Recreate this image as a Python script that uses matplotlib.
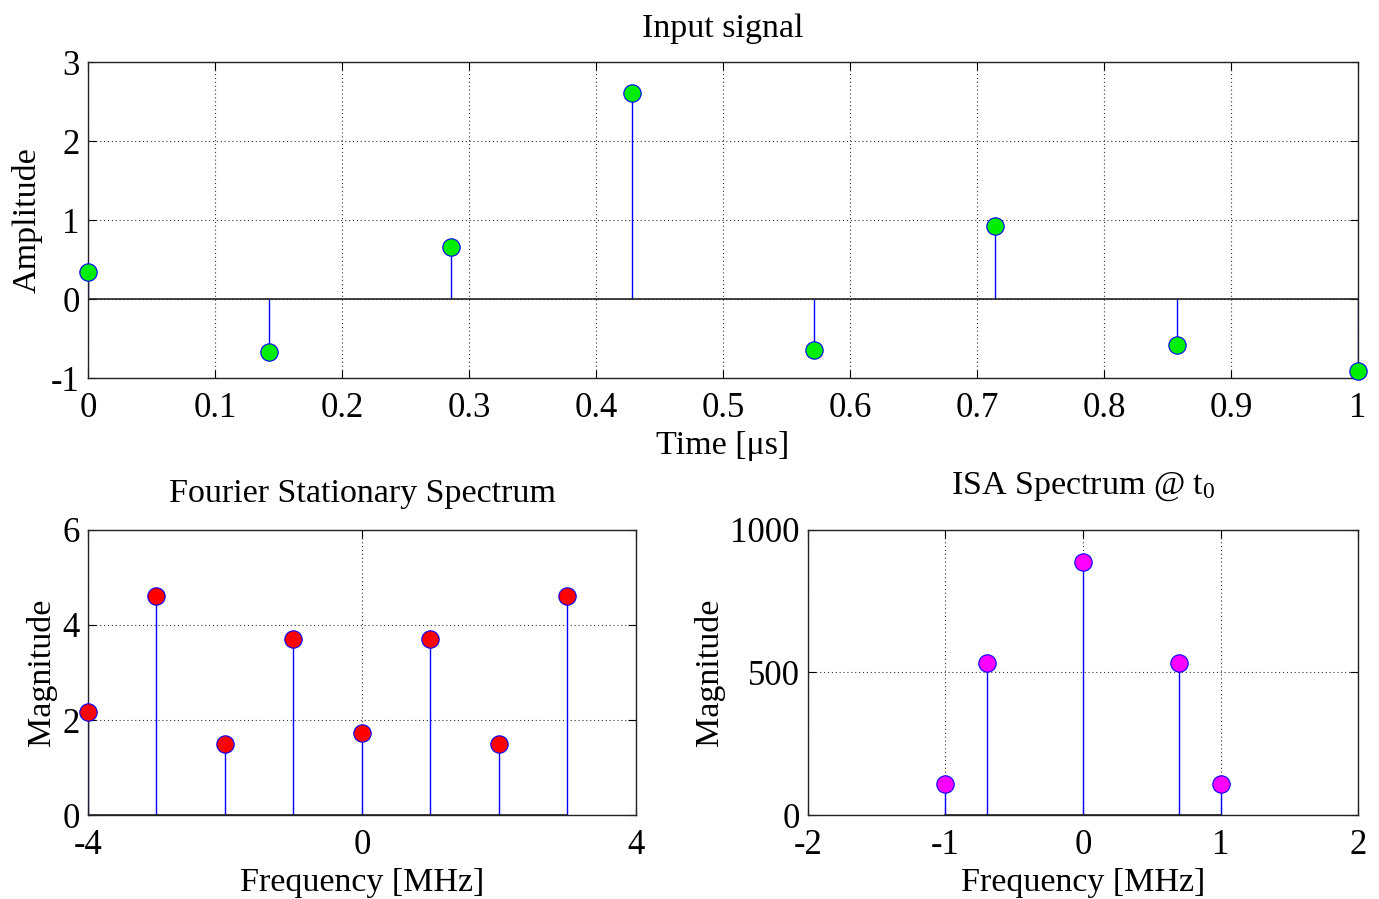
import matplotlib
matplotlib.use("Agg")
import matplotlib.pyplot as plt
import numpy as np

plt.rcParams['font.family'] = ['Liberation Serif', 'DejaVu Serif']
plt.rcParams['mathtext.fontset'] = 'custom'
plt.rcParams['mathtext.rm'] = 'Liberation Serif'
plt.rcParams['mathtext.it'] = 'Liberation Serif'
plt.rcParams['axes.unicode_minus'] = False

# Input signal
time_us = [0, 1/7, 2/7, 3/7, 4/7, 5/7, 6/7, 1.0]
amplitude = [0.34, -0.67, 0.66, 2.61, -0.645, 0.92, -0.58, -0.91]

# Fourier stationary spectrum
fourier_freq = [-4, -3, -2, -1, 0, 1, 2, 3]
fourier_mag = [2.17, 4.61, 1.49, 3.71, 1.73, 3.71, 1.49, 4.61]

# ISA spectrum
isa_freq = [-1, -0.7, 0, 0.7, 1]
isa_mag = [109, 533, 888, 533, 109]

top_xticks = [0, 0.1, 0.2, 0.3, 0.4, 0.5, 0.6, 0.7, 0.8, 0.9, 1]
top_xticklabels = ['0', '0.1', '0.2', '0.3', '0.4', '0.5', '0.6', '0.7', '0.8', '0.9', '1']
top_yticks = [-1, 0, 1, 2, 3]
bl_xticks = [-4, 0, 4]
bl_yticks = [0, 2, 4, 6]
br_xticks = [-2, -1, 0, 1, 2]
br_yticks = [0, 500, 1000]

TICK_FS = 25
LABEL_FS = 24.5
TITLE_FS = 24.5

fig = plt.figure(figsize=(13.79, 8.99), dpi=100)
ax1 = fig.add_axes([0.0638, 0.5795, 0.921, 0.3515])
ax2 = fig.add_axes([0.0638, 0.0934, 0.3974, 0.3171])
ax3 = fig.add_axes([0.5859, 0.0934, 0.3989, 0.3171])


def style(ax):
    ax.tick_params(direction='in', top=True, right=True, labelsize=TICK_FS,
                   length=6, width=0.8)
    ax.tick_params(axis='x', pad=10)
    ax.tick_params(axis='y', pad=6)
    ax.grid(True, linestyle=(0, (1, 2.5)), color='#333333', linewidth=0.8)
    ax.set_axisbelow(True)
    for s in ax.spines.values():
        s.set_linewidth(1.0)
        s.set_color('#222222')


def stem(ax, x, y, face):
    ml, sl, bl = ax.stem(x, y, linefmt='b-', markerfmt='o', basefmt='k-')
    plt.setp(sl, linewidth=1.0, color='blue')
    plt.setp(ml, markersize=12.5, markerfacecolor=face, markeredgecolor='blue',
             markeredgewidth=0.8, zorder=3)
    plt.setp(bl, linewidth=1.2, color='#222222')
    ml.set_clip_on(False)
    return ml


# Top
stem(ax1, time_us, amplitude, '#00ee00')
ax1.set_xlim(0, 1)
ax1.set_ylim(-1, 3)
ax1.set_xticks(top_xticks)
ax1.set_xticklabels(top_xticklabels)
ax1.set_yticks(top_yticks)
style(ax1)
ax1.set_title('Input signal', fontsize=TITLE_FS, pad=18)
ax1.set_xlabel('Time [\u03bcs]', fontsize=LABEL_FS, labelpad=4)
ax1.set_ylabel('Amplitude', fontsize=LABEL_FS, labelpad=6)

# Bottom left
stem(ax2, fourier_freq, fourier_mag, '#ff0000')
ax2.set_xlim(-4, 4)
ax2.set_ylim(0, 6)
ax2.set_xticks(bl_xticks)
ax2.set_yticks(bl_yticks)
style(ax2)
ax2.set_title('Fourier Stationary Spectrum', fontsize=TITLE_FS, pad=20)
ax2.set_xlabel('Frequency [MHz]', fontsize=LABEL_FS, labelpad=4)
ax2.set_ylabel('Magnitude', fontsize=LABEL_FS, labelpad=4)

# Bottom right
stem(ax3, isa_freq, isa_mag, '#ff00ff')
ax3.set_xlim(-2, 2)
ax3.set_ylim(0, 1000)
ax3.set_xticks(br_xticks)
ax3.set_yticks(br_yticks)
style(ax3)
ax3.set_title('ISA Spectrum @ t$_0$', fontsize=TITLE_FS, pad=26)
ax3.set_xlabel('Frequency [MHz]', fontsize=LABEL_FS, labelpad=4)
ax3.set_ylabel('Magnitude', fontsize=LABEL_FS, labelpad=4)

fig.savefig('out.png', dpi=100)
